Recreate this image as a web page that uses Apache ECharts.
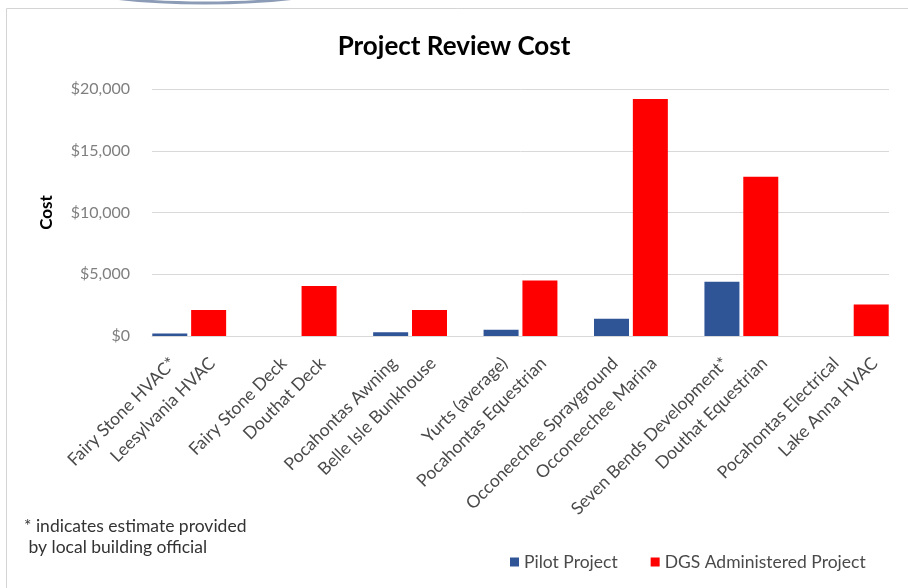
<!DOCTYPE html>
<html>
<head>
<meta charset="utf-8">
<script src="https://cdn.jsdelivr.net/npm/echarts@6/dist/echarts.min.js"></script>
<style>
  html, body { margin: 0; padding: 0; background: #fff; }
  #chart { width: 908px; height: 588px; }
</style>
</head>
<body>
<div id="chart"></div>
<script>
// each pair of bars shares one slot, the left bar is the pilot project
var pilotNames = ['Fairy Stone HVAC*', 'Fairy Stone Deck', 'Pocahontas Awning', 'Yurts (average)',
  'Occoneechee Sprayground', 'Seven Bends Development*', 'Pocahontas Electrical']
var dgsNames = ['Leesylvania HVAC', 'Douthat Deck', 'Belle Isle Bunkhouse', 'Pocahontas Equestrian',
  'Occoneechee Marina', 'Douthat Equestrian', 'Lake Anna HVAC']
var pilotCost = [200, 0, 300, 500, 1400, 4400, 0]
var dgsCost = [2100, 4050, 2100, 4500, 19200, 12900, 2550]
var costTicks = [0, 5000, 10000, 15000, 20000]

var slots = pilotNames.map(function (n, i) { return n + ' / ' + dgsNames[i] })

var myChart = echarts.init(document.getElementById('chart'))

var font = 'Lato, "Open Sans", sans-serif'

function money(v) {
  return '$' + v.toString().replace(/\B(?=(\d{3})+(?!\d))/g, ',')
}

function barLabel(names) {
  return {
    show: true,
    position: 'bottom',
    distance: 28,
    offset: [5, 0],
    rotate: 45,
    align: 'right',
    verticalAlign: 'middle',
    fontFamily: font,
    fontSize: 17.5,
    color: '#4a4a4a',
    formatter: function (p) { return names[p.dataIndex] }
  }
}

var option = {
  backgroundColor: '#fff',
  animation: false,
  title: {
    text: 'Project Review Cost',
    left: 'center',
    top: 29,
    textStyle: { fontFamily: font, fontSize: 26, fontWeight: 'bold', color: '#000' }
  },
  legend: {
    data: ['Pilot Project', 'DGS Administered Project'],
    left: 505,
    top: 548,
    icon: 'rect',
    itemWidth: 9,
    itemHeight: 9,
    itemGap: 33,
    textStyle: { fontFamily: font, fontSize: 17.5, color: '#4a4a4a' }
  },
  graphic: [
    {
      type: 'rect',
      shape: { x: 6.5, y: 8.5, width: 1000, height: 1000 },
      style: { fill: 'none', stroke: '#d4d4d4', lineWidth: 1 },
      silent: true
    },
    {
      type: 'ellipse',
      shape: { cx: 205, cy: -22, rx: 150, ry: 25 },
      style: { fill: 'none', stroke: '#8d9cb6', lineWidth: 3 },
      silent: true
    },
    {
      type: 'text',
      left: 24,
      top: 516,
      style: {
        text: '* indicates estimate provided\n by local building official',
        fontFamily: font,
        fontSize: 17.5,
        lineHeight: 21,
        fill: '#333'
      }
    }
  ],
  grid: [
    { left: 152, right: 19, top: 89, bottom: 252 },
    { left: 134, right: 1, top: 89, bottom: 252 }
  ],
  xAxis: [{
    gridIndex: 0,
    type: 'category',
    data: slots,
    axisTick: { show: false },
    axisLabel: { show: false },
    axisLine: { lineStyle: { color: '#d9d9d9', width: 1 } }
  }, {
    gridIndex: 1,
    type: 'category',
    data: slots,
    show: false
  }],
  yAxis: [{
    gridIndex: 0,
    type: 'value',
    name: 'Cost',
    nameLocation: 'middle',
    nameGap: 97,
    nameTextStyle: { fontFamily: font, fontSize: 17, fontWeight: 'bold', color: '#000' },
    min: costTicks[0],
    max: costTicks[costTicks.length - 1],
    interval: costTicks[1] - costTicks[0],
    axisLine: { show: false },
    axisTick: { show: false },
    axisLabel: { margin: 22, fontFamily: font, fontSize: 16, color: '#7f7f7f', formatter: money },
    splitLine: { lineStyle: { color: '#d9d9d9', width: 1 } }
  }, {
    gridIndex: 1,
    type: 'value',
    min: costTicks[0],
    max: costTicks[costTicks.length - 1],
    interval: costTicks[1] - costTicks[0],
    show: false,
    splitLine: { show: false }
  }],
  series: [{
    name: 'Pilot Project',
    type: 'bar',
    xAxisIndex: 1,
    yAxisIndex: 1,
    barWidth: 35,
    barGap: '11%',
    itemStyle: { color: '#2f5597' },
    label: barLabel(pilotNames),
    data: pilotCost
  }, {
    name: 'DGS Administered Project',
    type: 'bar',
    xAxisIndex: 1,
    yAxisIndex: 1,
    barWidth: 35,
    barGap: '11%',
    itemStyle: { color: '#ff0000' },
    label: barLabel(dgsNames),
    data: dgsCost
  }]
}
myChart.setOption(option)
</script>
</body>
</html>
